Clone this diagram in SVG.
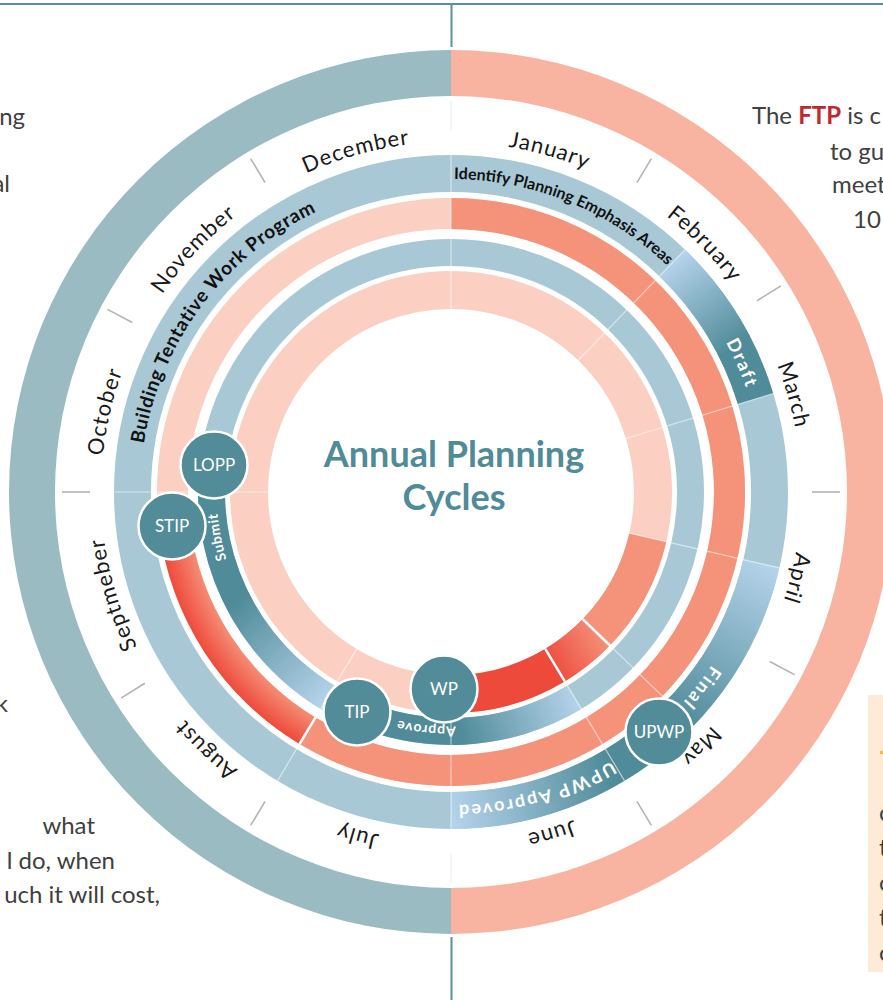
<svg xmlns="http://www.w3.org/2000/svg" width="883" height="1000" viewBox="0 0 883 1000">
<style>
.side{font-family:Lato,"Liberation Sans",sans-serif;font-size:24px;fill:#404040}
.month{font-family:Lato,"Liberation Sans",sans-serif;font-size:22px;fill:#1a1a1a;letter-spacing:1px}
.band{font-family:Lato,"Liberation Sans",sans-serif;font-weight:bold;fill:#111}
.wband{font-family:Lato,"Liberation Sans",sans-serif;font-weight:bold;fill:#fff}
.tick{stroke:#b3b3b3;stroke-width:1.6}
.faint{stroke:#ececec;stroke-width:1}
.sep{stroke:#fff;stroke-opacity:0.55;stroke-width:1.2}
.wsep{stroke:#fff;stroke-width:2.5}
.node circle{fill:#528c99;stroke:#fff;stroke-width:2.5}
.node text{font-family:Lato,"Liberation Sans",sans-serif;font-size:17px;fill:#fff;text-anchor:middle}
.title{font-family:Lato,"Liberation Sans",sans-serif;font-weight:bold;font-size:36px;fill:#508b98;text-anchor:middle}
</style>
<defs>
<path id="pM" d="M801,492 A350,350 0 1 1 101,492 A350,350 0 1 1 801,492"/>
<path id="pB" d="M764,492 A313,313 0 1 1 138,492 A313,313 0 1 1 764,492"/>
<path id="pB2" d="M762,492 A311,311 0 1 1 140,492 A311,311 0 1 1 762,492"/>
<path id="pS" d="M685.5,492 A234.5,234.5 0 1 1 216.5,492 A234.5,234.5 0 1 1 685.5,492"/>
<linearGradient id="gDraft" gradientUnits="userSpaceOnUse" x1="672" y1="263" x2="734" y2="348">
<stop offset="0" stop-color="#b4d2ea"/><stop offset="1" stop-color="#4f8b98"/></linearGradient>
<linearGradient id="gFinal" gradientUnits="userSpaceOnUse" x1="761" y1="563" x2="672" y2="721">
<stop offset="0" stop-color="#b4d2ea"/><stop offset="1" stop-color="#4f8b98"/></linearGradient>
<linearGradient id="gUA" gradientUnits="userSpaceOnUse" x1="610" y1="767" x2="451" y2="810">
<stop offset="0" stop-color="#4f8b98"/><stop offset="1" stop-color="#b4d2ea"/></linearGradient>
<linearGradient id="gApprove" gradientUnits="userSpaceOnUse" x1="575" y1="698" x2="459" y2="732">
<stop offset="0" stop-color="#b4d2ea"/><stop offset="1" stop-color="#4f8b98"/></linearGradient>
<linearGradient id="gSubmit" gradientUnits="userSpaceOnUse" x1="327" y1="698" x2="237" y2="601">
<stop offset="0" stop-color="#b4d2ea"/><stop offset="1" stop-color="#4f8b98"/></linearGradient>
<radialGradient id="gRed3" gradientUnits="userSpaceOnUse" cx="451" cy="492" r="294">
<stop offset="0.895" stop-color="#f48c74"/><stop offset="1" stop-color="#ee4a3c"/></radialGradient>
<linearGradient id="gRed1" gradientUnits="userSpaceOnUse" x1="550" y1="668" x2="605" y2="636">
<stop offset="0" stop-color="#ee4a3c"/><stop offset="1" stop-color="#f4927a"/></linearGradient>
</defs>

<g id="frame">
<line x1="0" y1="4" x2="883" y2="4" stroke="#5b8f9c" stroke-width="2"/>
<line x1="451.5" y1="4" x2="451.5" y2="47" stroke="#5b8f9c" stroke-width="2"/>
<line x1="451.5" y1="937" x2="451.5" y2="1000" stroke="#5b8f9c" stroke-width="2"/>
</g>

<g id="side-text">
<text class="side" x="25" y="125" text-anchor="end">ng</text>
<text class="side" x="10" y="192" text-anchor="end">al</text>
<text class="side" x="8" y="712" text-anchor="end">k</text>
<text class="side" x="95" y="834" text-anchor="end">what</text>
<text class="side" x="115" y="869" text-anchor="end">l do, when</text>
<text class="side" x="160" y="903" text-anchor="end">uch it will cost,</text>
<text class="side" x="752" y="124">The <tspan font-weight="bold" fill="#c1272d">FTP</tspan> is c</text>
<text class="side" x="830" y="160">to gu</text>
<text class="side" x="832" y="193">meet</text>
<text class="side" x="853" y="228">10</text>
<rect x="868" y="695" width="20" height="277" fill="#fdebd8"/>
<rect x="880" y="751" width="4" height="3" fill="#f5b94a"/>
<text class="side" x="879" y="821">c</text>
<text class="side" x="879" y="856">t</text>
<text class="side" x="879" y="891">c</text>
<text class="side" x="879" y="926">t</text>
<text class="side" x="879" y="961">c</text>
</g>

<g id="outer-ring">
<path d="M451,50 A442,442 0 0 1 451,934 L451,888 A396,396 0 0 0 451,96 Z" fill="#f8b4a0"/>
<path d="M451,934 A442,442 0 0 1 451,50 L451,96 A396,396 0 0 0 451,888 Z" fill="#9bbbc3"/>
</g>

<g id="rings">
<circle cx="451" cy="492" r="202" fill="none" stroke="#fbd0c2" stroke-width="38"/>
<circle cx="451" cy="492" r="239.5" fill="none" stroke="#a8c8d6" stroke-width="27"/>
<circle cx="451" cy="492" r="278.5" fill="none" stroke="#fbd0c2" stroke-width="31"/>
<circle cx="451" cy="492" r="318.5" fill="none" stroke="#a8c8d6" stroke-width="37"/>
<path d="M666.34,541.71 A221,221 0 0 1 609.97,645.52 L582.64,619.12 A183,183 0 0 0 629.31,533.17 Z" fill="#f4927a"/>
<path d="M609.97,645.52 A221,221 0 0 1 564.82,681.43 L545.25,648.86 A183,183 0 0 0 582.64,619.12 Z" fill="url(#gRed1)"/>
<path d="M564.82,681.43 A221,221 0 0 1 443.29,712.87 L444.61,674.89 A183,183 0 0 0 545.25,648.86 Z" fill="#ee4a3c"/>
<path d="M581.31,708.86 A253,253 0 0 1 344.08,721.30 L355.49,696.83 A226,226 0 0 0 567.40,685.72 Z" fill="url(#gApprove)"/>
<path d="M344.08,721.30 A253,253 0 0 1 199.39,465.55 L226.24,468.38 A226,226 0 0 0 355.49,696.83 Z" fill="url(#gSubmit)"/>
<path d="M451,198 A294,294 0 1 1 299.58,744.01 L315.54,717.44 A263,263 0 1 0 451,229 Z" fill="#f4927a"/>
<path d="M299.58,744.01 A294,294 0 0 1 159.19,527.83 L189.96,524.05 A263,263 0 0 0 315.54,717.44 Z" fill="url(#gRed3)"/>
<path d="M685.10,249.58 A337,337 0 0 1 773.27,393.47 L737.89,404.29 A300,300 0 0 0 659.40,276.20 Z" fill="url(#gDraft)"/>
<path d="M779.36,567.81 A337,337 0 0 1 624.57,780.87 L605.51,749.15 A300,300 0 0 0 743.31,559.49 Z" fill="url(#gFinal)"/>
<path d="M624.57,780.87 A337,337 0 0 1 451,829 L451,792 A300,300 0 0 0 605.51,749.15 Z" fill="url(#gUA)"/>
</g>

<g id="separators">
<line class="sep" x1="451" y1="309" x2="451" y2="155"/>
<line class="sep" x1="578.12" y1="360.36" x2="685.10" y2="249.58"/>
<line class="sep" x1="626.00" y1="438.50" x2="773.27" y2="393.47"/>
<line class="sep" x1="629.31" y1="533.17" x2="779.36" y2="567.81"/>
<line class="sep" x1="582.64" y1="619.12" x2="693.42" y2="726.10"/>
<line class="sep" x1="545.25" y1="648.86" x2="624.57" y2="780.87"/>
<line class="sep" x1="451" y1="675" x2="451" y2="829"/>
<line class="sep" x1="356.75" y1="648.86" x2="277.43" y2="780.87"/>
<line class="sep" x1="268" y1="492" x2="114" y2="492"/>
<line class="wsep" x1="582.64" y1="619.12" x2="609.97" y2="645.52"/>
<line class="wsep" x1="545.25" y1="648.86" x2="564.82" y2="681.43"/>
<line class="wsep" x1="299.58" y1="744.01" x2="315.54" y2="717.44"/>
</g>

<g id="month-ticks">
<line class="tick" x1="636.93" y1="182.56" x2="651.35" y2="158.56"/>
<line class="tick" x1="757.15" y1="300.70" x2="780.89" y2="285.86"/>
<line class="tick" x1="812" y1="492" x2="840" y2="492"/>
<line class="tick" x1="769.74" y1="661.48" x2="794.47" y2="674.62"/>
<line class="tick" x1="636.93" y1="801.44" x2="651.35" y2="825.44"/>
<line class="tick" x1="265.07" y1="801.44" x2="250.65" y2="825.44"/>
<line class="tick" x1="144.85" y1="683.30" x2="121.11" y2="698.14"/>
<line class="tick" x1="90" y1="492" x2="62" y2="492"/>
<line class="tick" x1="132.26" y1="322.52" x2="107.53" y2="309.38"/>
<line class="tick" x1="265.07" y1="182.56" x2="250.65" y2="158.56"/>
<line class="faint" x1="451" y1="131" x2="451" y2="101"/>
<line class="faint" x1="451" y1="853" x2="451" y2="883"/>
</g>

<g id="month-labels">
<text class="month"><textPath href="#pM" startOffset="1747.1" text-anchor="middle">January</textPath></text>
<text class="month"><textPath href="#pM" startOffset="1927.3" text-anchor="middle">February</textPath></text>
<text class="month"><textPath href="#pM" startOffset="2101.4" text-anchor="middle">March</textPath></text>
<text class="month"><textPath href="#pM" startOffset="85.5" text-anchor="middle">April</textPath></text>
<text class="month"><textPath href="#pM" startOffset="277.9" text-anchor="middle">May</textPath></text>
<text class="month"><textPath href="#pM" startOffset="449.0" text-anchor="middle">June</textPath></text>
<text class="month"><textPath href="#pM" startOffset="642.6" text-anchor="middle">July</textPath></text>
<text class="month"><textPath href="#pM" startOffset="815.5" text-anchor="middle">August</textPath></text>
<text class="month"><textPath href="#pM" startOffset="995.7" text-anchor="middle">Septmeber</textPath></text>
<text class="month"><textPath href="#pM" startOffset="1179.0" text-anchor="middle">October</textPath></text>
<text class="month"><textPath href="#pM" startOffset="1363.5" text-anchor="middle">November</textPath></text>
<text class="month"><textPath href="#pM" startOffset="1553.4" text-anchor="middle">December</textPath></text>
</g>

<g id="band-labels">
<text class="band" font-size="16"><textPath href="#pB" startOffset="1595.2" text-anchor="middle">Identify Planning Emphasis Areas</textPath></text>
<text class="band" font-size="19" letter-spacing="0.7"><textPath href="#pB2" startOffset="1175.7" text-anchor="middle">Building Tentative Work Program</textPath></text>
<text class="wband" font-size="18" letter-spacing="1.8"><textPath href="#pB" startOffset="1835.5" text-anchor="middle">Draft</textPath></text>
<text class="wband" font-size="18" letter-spacing="2"><textPath href="#pB" startOffset="207.6" text-anchor="middle">Final</textPath></text>
<text class="wband" font-size="18" letter-spacing="2"><textPath href="#pB" startOffset="404.3" text-anchor="middle">UPWP Approved</textPath></text>
<text class="wband" font-size="14" letter-spacing="0.8"><textPath href="#pS" startOffset="392.9" text-anchor="middle">Approve</textPath></text>
<text class="wband" font-size="14" letter-spacing="0.6"><textPath href="#pS" startOffset="691.7" text-anchor="middle">Submit</textPath></text>
</g>

<g id="title">
<text class="title" x="454" y="467">Annual Planning</text>
<text class="title" x="454" y="510">Cycles</text>
</g>

<g id="connectors"></g>

<g id="node-lopp" class="node"><circle cx="214" cy="465" r="33.5"/><text x="214" y="471">LOPP</text></g>
<g id="node-stip" class="node"><circle cx="172" cy="526" r="33.5"/><text x="172" y="532">STIP</text></g>
<g id="node-tip" class="node"><circle cx="357" cy="712" r="33.5"/><text x="357" y="718">TIP</text></g>
<g id="node-wp" class="node"><circle cx="444" cy="689" r="33.5"/><text x="444" y="695">WP</text></g>
<g id="node-upwp" class="node"><circle cx="659" cy="732" r="33.5"/><text x="659" y="738">UPWP</text></g>
</svg>
